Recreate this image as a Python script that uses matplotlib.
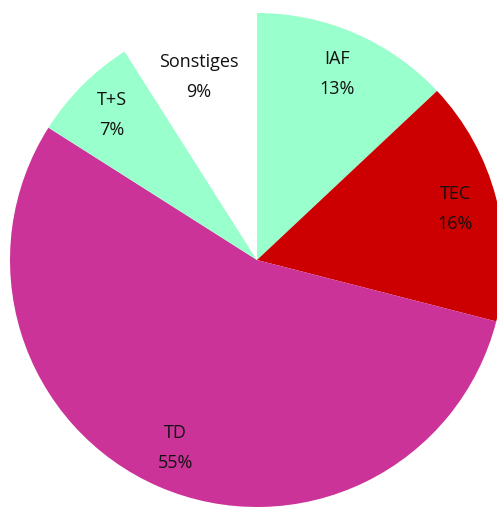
import numpy as np
import matplotlib.pyplot as plt

labels = ['IAF', 'TEC', 'TD', 'T+S', 'Sonstiges']
shares = [13, 16, 55, 7, 9]
colors = ['#99FFCC', '#CC0000', '#CC3399', '#99FFCC', '#FFFFFF']

fig = plt.figure(figsize=(4.97, 5.07), dpi=100)
# pie centre at ~(257, 260) px, radius ~247 px
r_px = 247
ax = fig.add_axes([(257 - r_px) / 497, (507 - 260 - r_px) / 507,
                   2 * r_px / 497, 2 * r_px / 507])

wedges, _ = ax.pie(shares, colors=colors, startangle=90, counterclock=False,
                   radius=1, wedgeprops=dict(linewidth=0))

dist = [0.82, 0.83, 0.83, 0.83, 0.77]
for w, lab, val, d in zip(wedges, labels, shares, dist):
    ang = np.deg2rad((w.theta1 + w.theta2) / 2)
    ax.text(d * np.cos(ang) - (0.02 if lab == 'Sonstiges' else 0),
            d * np.sin(ang), f'{lab}\n{val}%',
            ha='center', va='center', fontsize=13, family='Open Sans',
            color='#111111', linespacing=1.85)

ax.set_xlim(-1, 1)
ax.set_ylim(-1, 1)
ax.set_aspect('equal')
ax.axis('off')
fig.savefig('out.png', dpi=100)
